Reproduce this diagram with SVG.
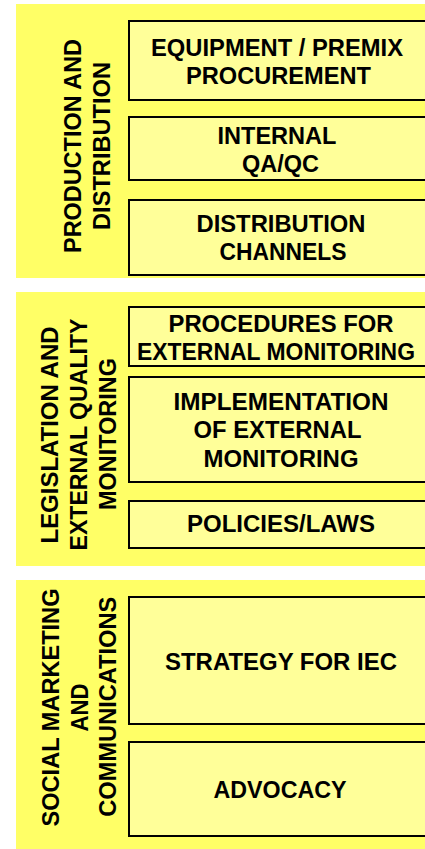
<svg xmlns="http://www.w3.org/2000/svg" width="425" height="849" viewBox="0 0 425 849">
<style>
.panel{fill:#FFFF66;stroke:none}
.box{fill:#FFFF99;stroke:#000;stroke-width:2}
text{font-family:"Liberation Sans",Arial,sans-serif;font-weight:bold;font-size:23px;fill:#000;text-anchor:middle}
</style>
<rect width="425" height="849" fill="#fff"/>
<g id="panel-production">
<rect class="panel" x="16" y="4" width="420" height="274"/>
<text transform="translate(81,146) rotate(-90)" textLength="214" lengthAdjust="spacingAndGlyphs">PRODUCTION AND</text>
<text transform="translate(110,146) rotate(-90)" textLength="168" lengthAdjust="spacingAndGlyphs">DISTRIBUTION</text>
</g>
<g id="node-equipment">
<rect class="box" x="129" y="21" width="310" height="79"/>
<text x="277" y="55.5" textLength="252" lengthAdjust="spacingAndGlyphs">EQUIPMENT / PREMIX</text>
<text x="278.5" y="83.5" textLength="185" lengthAdjust="spacingAndGlyphs">PROCUREMENT</text>
</g>
<g id="node-internal">
<rect class="box" x="129" y="117" width="310" height="63"/>
<text x="277" y="144" textLength="119" lengthAdjust="spacingAndGlyphs">INTERNAL</text>
<text x="280.5" y="171.5" textLength="77" lengthAdjust="spacingAndGlyphs">QA/QC</text>
</g>
<g id="node-distribution">
<rect class="box" x="129" y="200" width="310" height="75"/>
<text x="281" y="232.3" textLength="169" lengthAdjust="spacingAndGlyphs">DISTRIBUTION</text>
<text x="283" y="260" textLength="127" lengthAdjust="spacingAndGlyphs">CHANNELS</text>
</g>
<g id="panel-legislation">
<rect class="panel" x="16" y="292" width="420" height="274"/>
<text transform="translate(58,435) rotate(-90)" textLength="217" lengthAdjust="spacingAndGlyphs">LEGISLATION AND</text>
<text transform="translate(87,434.5) rotate(-90)" textLength="232" lengthAdjust="spacingAndGlyphs">EXTERNAL QUALITY</text>
<text transform="translate(116,434) rotate(-90)" textLength="152" lengthAdjust="spacingAndGlyphs">MONITORING</text>
</g>
<g id="node-procedures">
<rect class="box" x="129" y="307" width="310" height="59"/>
<text x="281" y="332.3" textLength="225" lengthAdjust="spacingAndGlyphs">PROCEDURES FOR</text>
<text x="276" y="360" textLength="278" lengthAdjust="spacingAndGlyphs">EXTERNAL MONITORING</text>
</g>
<g id="node-implementation">
<rect class="box" x="129" y="377" width="310" height="105"/>
<text x="281" y="410" textLength="215" lengthAdjust="spacingAndGlyphs">IMPLEMENTATION</text>
<text x="277.5" y="438.3" textLength="168" lengthAdjust="spacingAndGlyphs">OF EXTERNAL</text>
<text x="281" y="466.7" textLength="155" lengthAdjust="spacingAndGlyphs">MONITORING</text>
</g>
<g id="node-policies">
<rect class="box" x="129" y="501" width="310" height="47"/>
<text x="281" y="531.7" textLength="188" lengthAdjust="spacingAndGlyphs">POLICIES/LAWS</text>
</g>
<g id="panel-social">
<rect class="panel" x="16" y="580" width="420" height="280"/>
<text transform="translate(59,707.5) rotate(-90)" textLength="238" lengthAdjust="spacingAndGlyphs">SOCIAL MARKETING</text>
<text transform="translate(88,707.5) rotate(-90)" textLength="48" lengthAdjust="spacingAndGlyphs">AND</text>
<text transform="translate(116,706.7) rotate(-90)" textLength="220" lengthAdjust="spacingAndGlyphs">COMMUNICATIONS</text>
</g>
<g id="node-strategy">
<rect class="box" x="129" y="597" width="310" height="127"/>
<text x="281" y="670" textLength="232" lengthAdjust="spacingAndGlyphs">STRATEGY FOR IEC</text>
</g>
<g id="node-advocacy">
<rect class="box" x="129" y="742" width="310" height="94"/>
<text x="280" y="798.3" textLength="133" lengthAdjust="spacingAndGlyphs">ADVOCACY</text>
</g>
<g id="connectors"/>
</svg>
